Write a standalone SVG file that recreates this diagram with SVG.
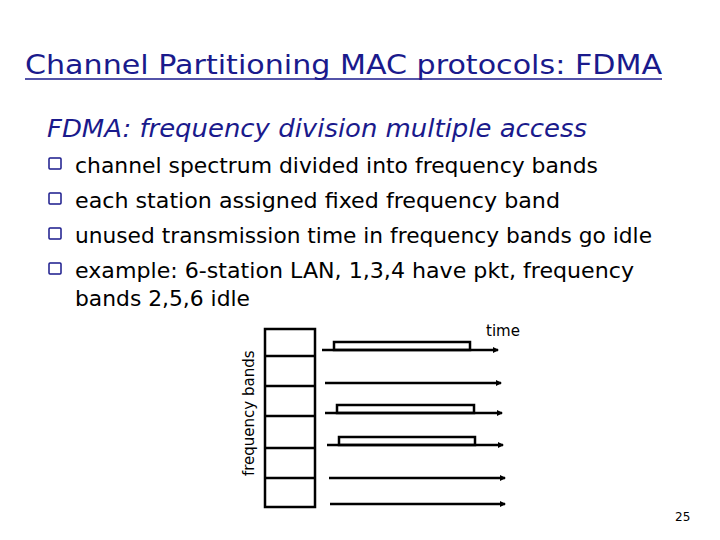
<svg xmlns="http://www.w3.org/2000/svg" width="720" height="540" viewBox="0 0 720 540">
<style>
text{font-family:"DejaVu Sans","Noto Sans",sans-serif;fill:#000}
.t{fill:#1a1a8c;font-size:27px}
.h{fill:#1a1a8c;font-size:25px;font-style:italic}
.b{font-size:21px}
.bx{fill:#fff;stroke:#1a1a8c;stroke-width:1.5}
.ln{stroke:#000;stroke-width:2.5;fill:none}
.ar{stroke:#000;stroke-width:2.5;fill:none;marker-end:url(#a)}
</style>
<defs><marker id="a" markerWidth="6" markerHeight="6" refX="5" refY="3" orient="auto" markerUnits="userSpaceOnUse"><path d="M0,0 L6,3 L0,6 z" fill="#000"/></marker></defs>
<rect width="720" height="540" fill="#fff"/>
<text class="t" x="25" y="74" textLength="637" lengthAdjust="spacingAndGlyphs">Channel Partitioning MAC protocols: FDMA</text>
<line x1="25" y1="79" x2="662" y2="79" stroke="#1a1a8c" stroke-width="1.5"/>
<text class="h" x="47" y="137" textLength="540" lengthAdjust="spacingAndGlyphs">FDMA: frequency division multiple access</text>
<g>
<rect class="bx" x="49" y="158" width="12" height="11" rx="1"/>
<rect class="bx" x="49" y="193" width="12" height="11" rx="1"/>
<rect class="bx" x="49" y="228" width="12" height="11" rx="1"/>
<rect class="bx" x="49" y="263" width="12" height="11" rx="1"/>
<text class="b" x="75" y="173" textLength="523" lengthAdjust="spacingAndGlyphs">channel spectrum divided into frequency bands</text>
<text class="b" x="75" y="208" textLength="485" lengthAdjust="spacingAndGlyphs">each station assigned fixed frequency band</text>
<text class="b" x="75" y="243" textLength="577" lengthAdjust="spacingAndGlyphs">unused transmission time in frequency bands go idle</text>
<text class="b" x="75" y="278" textLength="559" lengthAdjust="spacingAndGlyphs">example: 6-station LAN, 1,3,4 have pkt, frequency</text>
<text class="b" x="75" y="306" textLength="175" lengthAdjust="spacingAndGlyphs">bands 2,5,6 idle</text>
</g>
<g id="bands">
<rect class="ln" x="265" y="329" width="50" height="178"/>
<line class="ln" x1="265" y1="356" x2="315" y2="356"/>
<line class="ln" x1="265" y1="386" x2="315" y2="386"/>
<line class="ln" x1="265" y1="416" x2="315" y2="416"/>
<line class="ln" x1="265" y1="448" x2="315" y2="448"/>
<line class="ln" x1="265" y1="478" x2="315" y2="478"/>
</g>
<text x="254" y="476" font-size="15" transform="rotate(-90 254 476)">frequency bands</text>
<text x="486" y="336" font-size="15">time</text>
<g id="pkts">
<rect class="ln" x="334" y="342" width="136" height="8"/>
<rect class="ln" x="337" y="405" width="137" height="8"/>
<rect class="ln" x="339" y="437" width="136" height="8"/>
</g>
<g id="connectors">
<line class="ar" x1="322" y1="350" x2="498" y2="350"/>
<line class="ar" x1="325" y1="383" x2="501" y2="383"/>
<line class="ar" x1="325" y1="413" x2="502" y2="413"/>
<line class="ar" x1="327" y1="445" x2="503" y2="445"/>
<line class="ar" x1="329" y1="478" x2="505" y2="478"/>
<line class="ar" x1="330" y1="504" x2="505" y2="504"/>
</g>
<text x="675" y="521" font-size="12" font-family="Liberation Serif,serif">25</text>
</svg>
